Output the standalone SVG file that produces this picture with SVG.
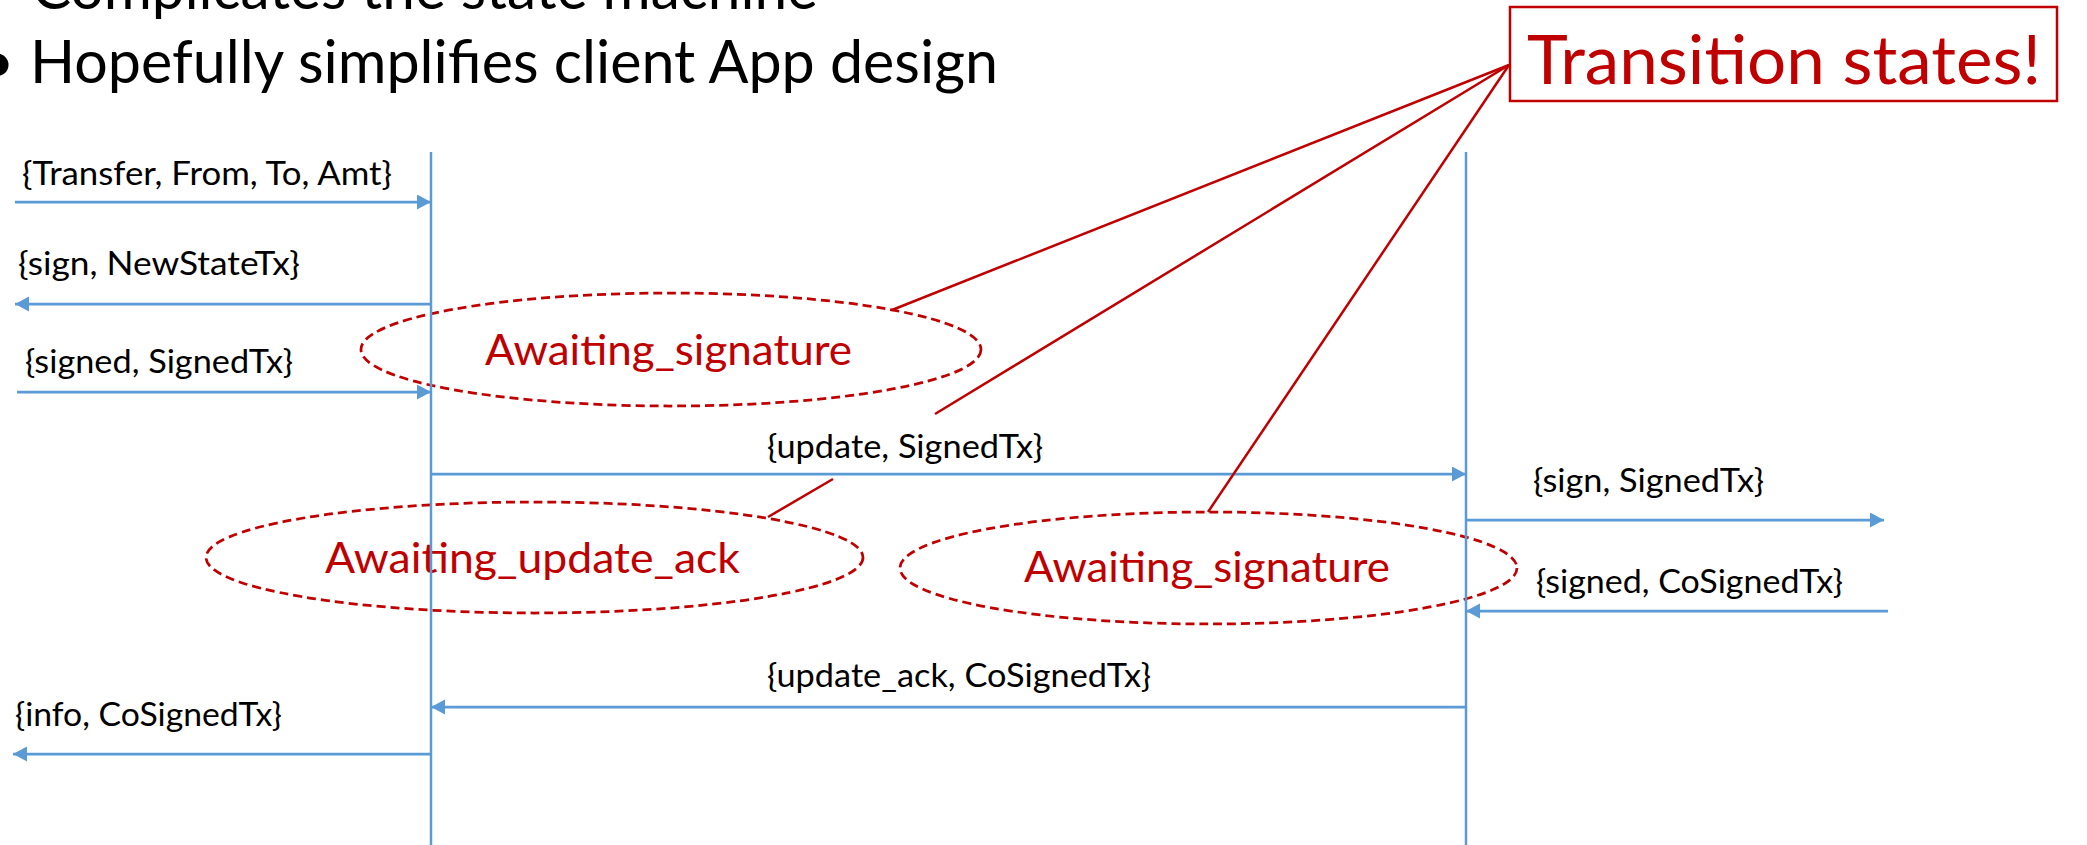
<svg xmlns="http://www.w3.org/2000/svg" width="2087" height="845" viewBox="0 0 2087 845">
  <defs>
    <marker id="head" markerUnits="userSpaceOnUse" markerWidth="16" markerHeight="16" refX="14" refY="7.5" orient="auto">
      <path d="M0,0 L14,7.5 L0,15 Z" fill="#5B9BD5"/>
    </marker>
    <style>
      .bullet { font-family: Lato, "Open Sans", "Liberation Sans", sans-serif; font-size: 60px; fill: #000; }
      .msg { font-family: Lato, "Open Sans", "Liberation Sans", sans-serif; font-size: 32px; fill: #000; }
      .state { font-family: Lato, "Open Sans", "Liberation Sans", sans-serif; font-size: 42px; fill: #C00000; }
      .callout-text { font-family: Lato, "Open Sans", "Liberation Sans", sans-serif; font-size: 68px; fill: #C00000; }
      .lifeline { stroke: #5B9BD5; stroke-width: 2.5; fill: none; }
      .arrow { stroke: #5B9BD5; stroke-width: 2.75; fill: none; marker-end: url(#head); }
      .state-shape { fill: none; stroke: #C00000; stroke-width: 2.75; stroke-dasharray: 9 5; }
      .pointer { stroke: #C00000; stroke-width: 2.5; fill: none; }
    </style>
  </defs>
  <rect width="2087" height="845" fill="#fff"/>

  <!-- slide bullet text -->
  <g id="bullets">
    <text class="bullet" x="32" y="9" textLength="786" lengthAdjust="spacingAndGlyphs">Complicates the state machine</text>
    <text class="bullet" x="-20" y="83">•</text>
    <text class="bullet" x="30" y="83" textLength="968" lengthAdjust="spacingAndGlyphs">Hopefully simplifies client App design</text>
  </g>

  <!-- states -->
  <g id="state-awaiting-signature-client">
    <ellipse class="state-shape" cx="671" cy="349.5" rx="310" ry="56.5"/>
    <text class="state" x="485" y="365" textLength="367" lengthAdjust="spacingAndGlyphs">Awaiting_signature</text>
  </g>
  <g id="state-awaiting-update-ack">
    <ellipse class="state-shape" cx="534.5" cy="557.5" rx="328.5" ry="55.5"/>
    <text class="state" x="325" y="573" textLength="415" lengthAdjust="spacingAndGlyphs">Awaiting_update_ack</text>
  </g>
  <g id="state-awaiting-signature-peer">
    <ellipse class="state-shape" cx="1208.5" cy="568" rx="308.5" ry="56"/>
    <text class="state" x="1024" y="582" textLength="366" lengthAdjust="spacingAndGlyphs">Awaiting_signature</text>
  </g>

  <!-- callout -->
  <g id="transition-states">
    <rect x="1510" y="7" width="547" height="94" fill="#fff" stroke="#C00000" stroke-width="2.5"/>
    <text class="callout-text" x="1527" y="84" textLength="514" lengthAdjust="spacingAndGlyphs">Transition states!</text>
  </g>

  <!-- lifelines -->
  <g id="lifelines">
    <line id="lifeline-server" class="lifeline" x1="431" y1="152" x2="431" y2="845"/>
    <line id="lifeline-peer" class="lifeline" x1="1466" y1="152" x2="1466" y2="845"/>
  </g>

  <!-- connectors: messages and callout pointers -->
  <g id="connectors">
    <line class="arrow" x1="15" y1="202" x2="431" y2="202"/>
    <line class="arrow" x1="431" y1="304" x2="15" y2="304"/>
    <line class="arrow" x1="17" y1="392" x2="431" y2="392"/>
    <line class="arrow" x1="431" y1="474" x2="1466" y2="474"/>
    <line class="arrow" x1="1466" y1="520" x2="1884" y2="520"/>
    <line class="arrow" x1="1888" y1="611" x2="1466" y2="611"/>
    <line class="arrow" x1="1466" y1="707" x2="431" y2="707"/>
    <line class="arrow" x1="431" y1="754" x2="13" y2="754"/>

    <line class="pointer" x1="1509" y1="65" x2="892" y2="310"/>
    <line class="pointer" x1="1509" y1="65" x2="935" y2="414"/>
    <line class="pointer" x1="833" y1="479" x2="768" y2="517"/>
    <line class="pointer" x1="1509" y1="65" x2="1208" y2="512"/>
  </g>

  <!-- message labels -->
  <g id="labels">
    <text class="msg" x="22" y="185" textLength="370" lengthAdjust="spacingAndGlyphs">{Transfer, From, To, Amt}</text>
    <text class="msg" x="18" y="275" textLength="282" lengthAdjust="spacingAndGlyphs">{sign,  NewStateTx}</text>
    <text class="msg" x="25" y="373" textLength="268" lengthAdjust="spacingAndGlyphs">{signed,  SignedTx}</text>
    <text class="msg" x="767" y="458" textLength="276" lengthAdjust="spacingAndGlyphs">{update, SignedTx}</text>
    <text class="msg" x="1533" y="492" textLength="231" lengthAdjust="spacingAndGlyphs">{sign,  SignedTx}</text>
    <text class="msg" x="1536" y="593" textLength="307" lengthAdjust="spacingAndGlyphs">{signed,  CoSignedTx}</text>
    <text class="msg" x="767" y="687" textLength="384" lengthAdjust="spacingAndGlyphs">{update_ack, CoSignedTx}</text>
    <text class="msg" x="15" y="726" textLength="267" lengthAdjust="spacingAndGlyphs">{info,  CoSignedTx}</text>
  </g>
</svg>
